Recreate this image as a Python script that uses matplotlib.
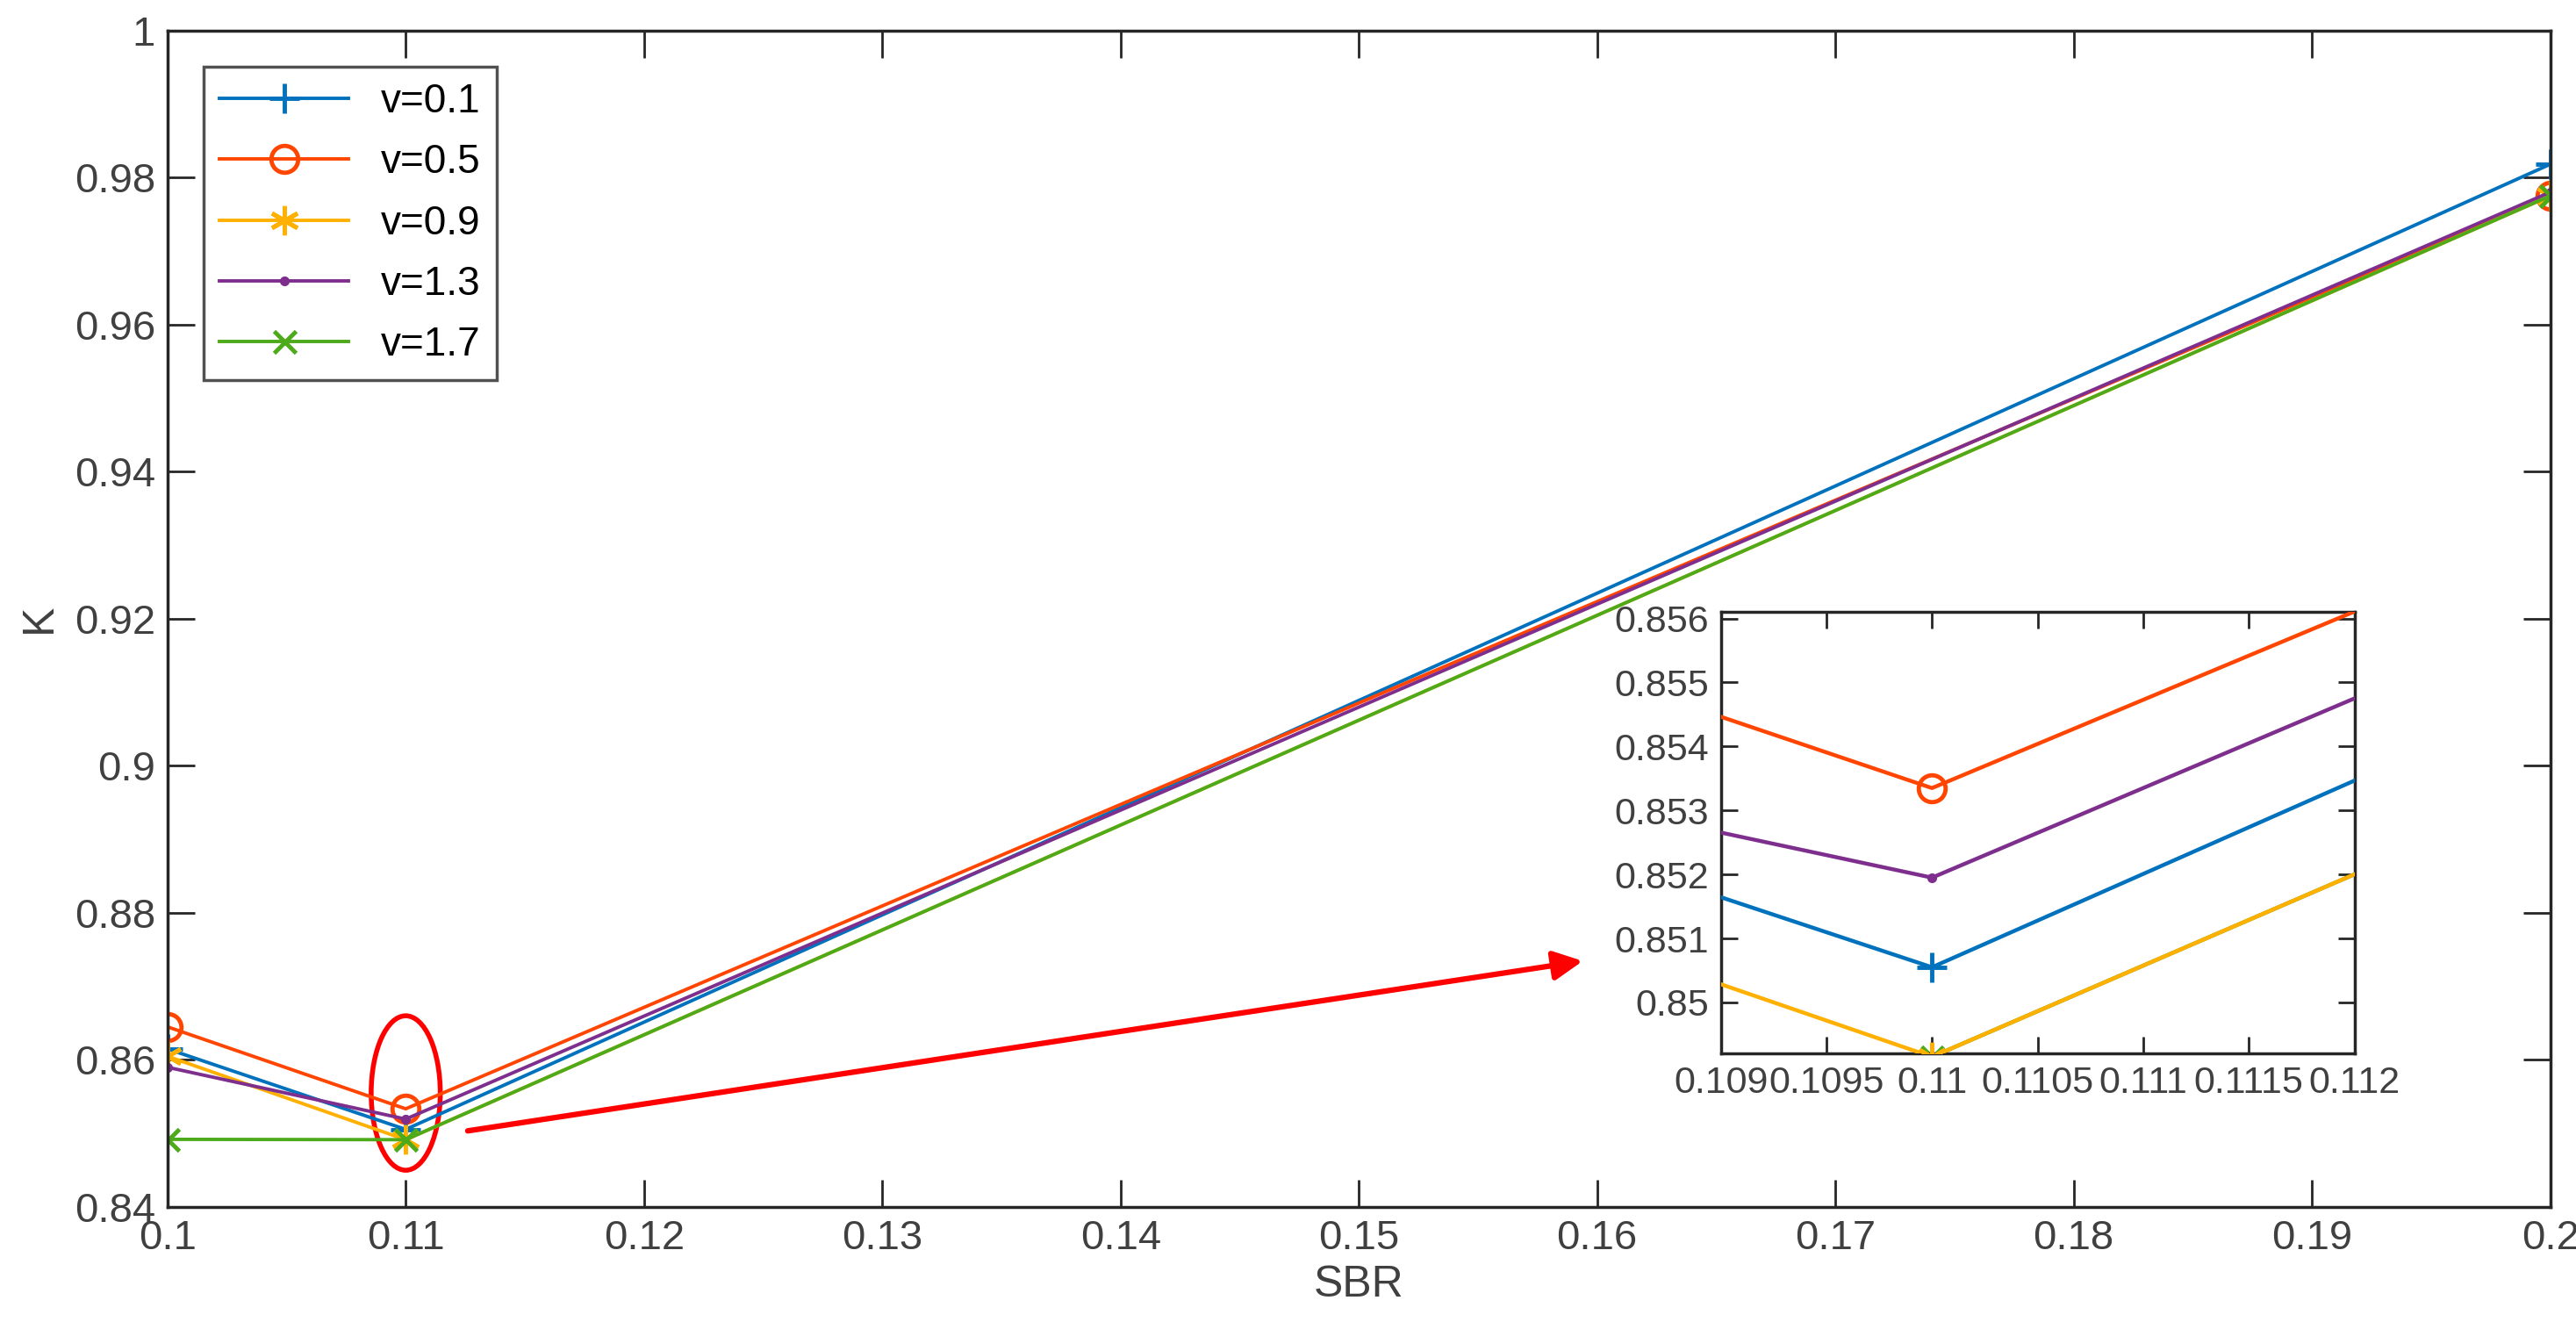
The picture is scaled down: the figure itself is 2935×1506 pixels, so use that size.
import matplotlib
matplotlib.use('Agg')
import matplotlib.pyplot as plt
from matplotlib.patches import Ellipse

plt.rcParams['font.family'] = ['Liberation Sans', 'DejaVu Sans']

sbr = [0.1, 0.11, 0.2]
k_01 = [0.8615, 0.85055, 0.9818]
k_05 = [0.8645, 0.85335, 0.9775]
k_09 = [0.8605, 0.84915, 0.9775]
k_13 = [0.8590, 0.85195, 0.9780]
k_17 = [0.8492, 0.84915, 0.9775]
labels = ['v=0.1', 'v=0.5', 'v=0.9', 'v=1.3', 'v=1.7']

series = [k_01, k_05, k_09, k_13, k_17]
colors = ['#0072BD', '#FF4500', '#FFB000', '#7E2F8E', '#4DAA1A']
markers = ['+', 'o', (6, 2, 0), '.', 'x']
msizes = [24, 22, 24, 9, 18]

fig = plt.figure(figsize=(29.35, 15.06), dpi=100)
ax = fig.add_axes([0.065, 0.087, 0.925, 0.89])

def draw(a, lw, zorders):
    for y, c, m, ms, lab, z in zip(series, colors, markers, msizes, labels, zorders):
        mfc = 'none' if m == 'o' else c
        a.plot(sbr, y, color=c, marker=m, markersize=ms, markerfacecolor=mfc,
               markeredgewidth=3.5, lw=lw, label=lab, zorder=z)

draw(ax, 2.8, [2, 2, 2, 2, 2])
ax.set_xlim(0.1, 0.2)
ax.set_ylim(0.84, 1.0)
ax.set_xticks([0.1 + 0.01 * i for i in range(11)])
ax.set_xticklabels(['0.1', '0.11', '0.12', '0.13', '0.14', '0.15', '0.16', '0.17', '0.18', '0.19', '0.2'])
ax.set_yticks([0.84 + 0.02 * i for i in range(9)])
ax.set_yticklabels(['0.84', '0.86', '0.88', '0.9', '0.92', '0.94', '0.96', '0.98', '1'])
ax.tick_params(direction='in', length=22, width=2, labelsize=34, colors='#262626', labelcolor='#404040', pad=10,
               top=True, right=True)
for s in ax.spines.values():
    s.set_linewidth(2.5)
    s.set_color('#262626')
ax.set_xlabel('SBR', fontsize=36, color='#404040', labelpad=6)
ax.set_ylabel('K', fontsize=36, color='#404040', labelpad=12)
leg = ax.legend(loc='upper left', fontsize=33, fancybox=False, edgecolor='#262626',
                borderaxespad=0.9, handlelength=3.2, labelspacing=0.55)
leg.get_frame().set_linewidth(2.5)

ax.add_patch(Ellipse((0.11, 0.8555), 0.0029, 0.021, fill=False, edgecolor='red', lw=4))
ax.annotate('', xy=(0.1595, 0.8735), xytext=(0.1125, 0.8503),
            arrowprops=dict(arrowstyle='-|>', color='red', lw=4.5, mutation_scale=50))

ins = fig.add_axes([0.668, 0.203, 0.246, 0.334])
draw(ins, 3.2, [3, 3, 4, 3, 2])
ins.set_xlim(0.109, 0.112)
ins.set_ylim(0.8492, 0.8561)
ins.set_xticks([0.109, 0.1095, 0.11, 0.1105, 0.111, 0.1115, 0.112])
ins.set_xticklabels(['0.109', '0.1095', '0.11', '0.1105', '0.111', '0.1115', '0.112'])
ins.set_yticks([0.850, 0.851, 0.852, 0.853, 0.854, 0.855, 0.856])
ins.set_yticklabels(['0.85', '0.851', '0.852', '0.853', '0.854', '0.855', '0.856'])
ins.tick_params(direction='in', length=14, width=2, labelsize=31, colors='#262626', labelcolor='#404040',
                top=True, right=True, pad=10)
for s in ins.spines.values():
    s.set_linewidth(2.5)
    s.set_color('#262626')

fig.savefig('out.png', dpi=100)
